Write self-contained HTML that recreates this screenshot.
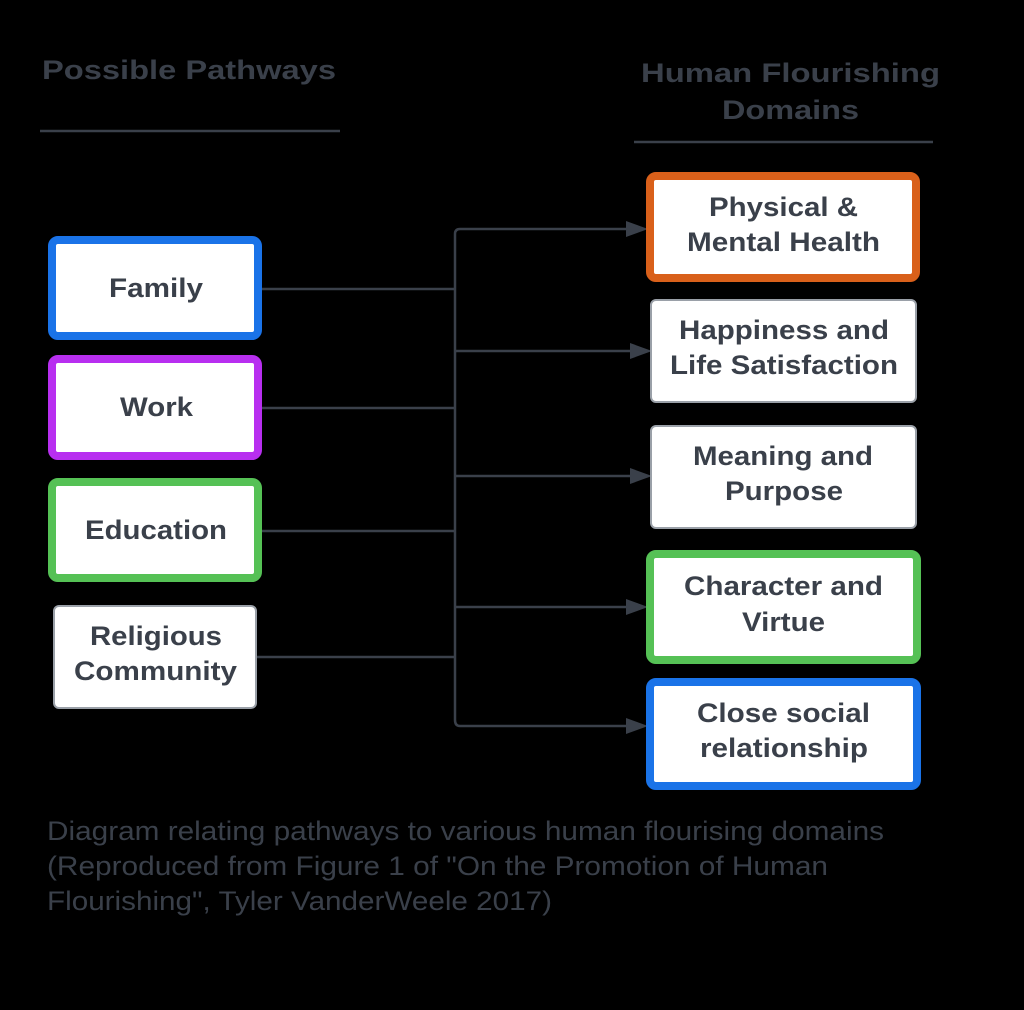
<!DOCTYPE html>
<html><head><meta charset="utf-8"><style>
body{margin:0;background:#000;}
svg{display:block}
text{font-family:"Liberation Sans",Arial,sans-serif;fill:#3a404a}
.b{font-weight:bold;font-size:27px}
</style></head><body>
<svg width="1024" height="1010" viewBox="0 0 1024 1010">
<rect width="1024" height="1010" fill="#000"/>
<text class="b" x="42" y="79" font-size="29" textLength="294" lengthAdjust="spacingAndGlyphs">Possible Pathways</text>
<line x1="40" y1="131" x2="340" y2="131" stroke="#3a404a" stroke-width="2.5"/>
<text class="b" x="641" y="82" font-size="29" textLength="299" lengthAdjust="spacingAndGlyphs">Human Flourishing</text>
<text class="b" x="722" y="119" font-size="29" textLength="137" lengthAdjust="spacingAndGlyphs">Domains</text>
<line x1="634" y1="142" x2="933" y2="142" stroke="#3a404a" stroke-width="2.5"/>

<g stroke="#3a404a" stroke-width="2.5" fill="none">
<line x1="262" y1="289" x2="455" y2="289"/>
<line x1="262" y1="408" x2="455" y2="408"/>
<line x1="262" y1="531" x2="455" y2="531"/>
<line x1="257" y1="657" x2="455" y2="657"/>
<path d="M632 229 H460 Q455 229 455 234 V720 Q455 726 460 726 H632"/>
<line x1="455" y1="351" x2="636" y2="351"/>
<line x1="455" y1="476" x2="636" y2="476"/>
<line x1="455" y1="607" x2="632" y2="607"/>
</g>
<g fill="#3a404a">
<polygon points="626,221 648,229 626,237"/>
<polygon points="630,343 652,351 630,359"/>
<polygon points="630,468 652,476 630,484"/>
<polygon points="626,599 648,607 626,615"/>
<polygon points="626,718 648,726 626,734"/>
</g>

<g fill="#fff">
<rect x="52" y="240" width="206" height="96" rx="6" stroke="#1a73e8" stroke-width="8"/>
<rect x="52" y="359" width="206" height="97" rx="6" stroke="#b82ff0" stroke-width="8"/>
<rect x="52" y="482" width="206" height="96" rx="6" stroke="#55c155" stroke-width="8"/>
<rect x="54" y="606" width="202" height="102" rx="5" stroke="#9aa0a8" stroke-width="2"/>
<rect x="650" y="176" width="266" height="102" rx="6" stroke="#d9601a" stroke-width="8"/>
<rect x="651" y="300" width="265" height="102" rx="5" stroke="#9aa0a8" stroke-width="2"/>
<rect x="651" y="426" width="265" height="102" rx="5" stroke="#9aa0a8" stroke-width="2"/>
<rect x="650" y="554" width="267" height="106" rx="6" stroke="#55c155" stroke-width="8"/>
<rect x="650" y="682" width="267" height="104" rx="6" stroke="#1a73e8" stroke-width="8"/>
</g>
<g>
<text class="b" x="109" y="297" textLength="94" lengthAdjust="spacingAndGlyphs">Family</text>
<text class="b" x="120" y="416" textLength="73" lengthAdjust="spacingAndGlyphs">Work</text>
<text class="b" x="85" y="539" textLength="142" lengthAdjust="spacingAndGlyphs">Education</text>
<text class="b" x="90" y="645" textLength="132" lengthAdjust="spacingAndGlyphs">Religious</text>
<text class="b" x="74" y="680" textLength="163" lengthAdjust="spacingAndGlyphs">Community</text>
<text class="b" x="709" y="216" textLength="149" lengthAdjust="spacingAndGlyphs">Physical &amp;</text>
<text class="b" x="687" y="251" textLength="193" lengthAdjust="spacingAndGlyphs">Mental Health</text>
<text class="b" x="679" y="339" textLength="210" lengthAdjust="spacingAndGlyphs">Happiness and</text>
<text class="b" x="670" y="374" textLength="228" lengthAdjust="spacingAndGlyphs">Life Satisfaction</text>
<text class="b" x="693" y="465" textLength="180" lengthAdjust="spacingAndGlyphs">Meaning and</text>
<text class="b" x="725" y="500" textLength="118" lengthAdjust="spacingAndGlyphs">Purpose</text>
<text class="b" x="684" y="595" textLength="199" lengthAdjust="spacingAndGlyphs">Character and</text>
<text class="b" x="742" y="631" textLength="83" lengthAdjust="spacingAndGlyphs">Virtue</text>
<text class="b" x="697" y="722" textLength="173" lengthAdjust="spacingAndGlyphs">Close social</text>
<text class="b" x="700" y="757" textLength="168" lengthAdjust="spacingAndGlyphs">relationship</text>
</g>
<g>
<text x="47" y="840" font-size="27" textLength="837" lengthAdjust="spacingAndGlyphs">Diagram relating pathways to various human flourising domains</text>
<text x="47" y="875" font-size="27" textLength="781" lengthAdjust="spacingAndGlyphs">(Reproduced from Figure 1 of "On the Promotion of Human</text>
<text x="47" y="910" font-size="27" textLength="505" lengthAdjust="spacingAndGlyphs">Flourishing", Tyler VanderWeele 2017)</text>
</g>
</svg>
</body></html>
